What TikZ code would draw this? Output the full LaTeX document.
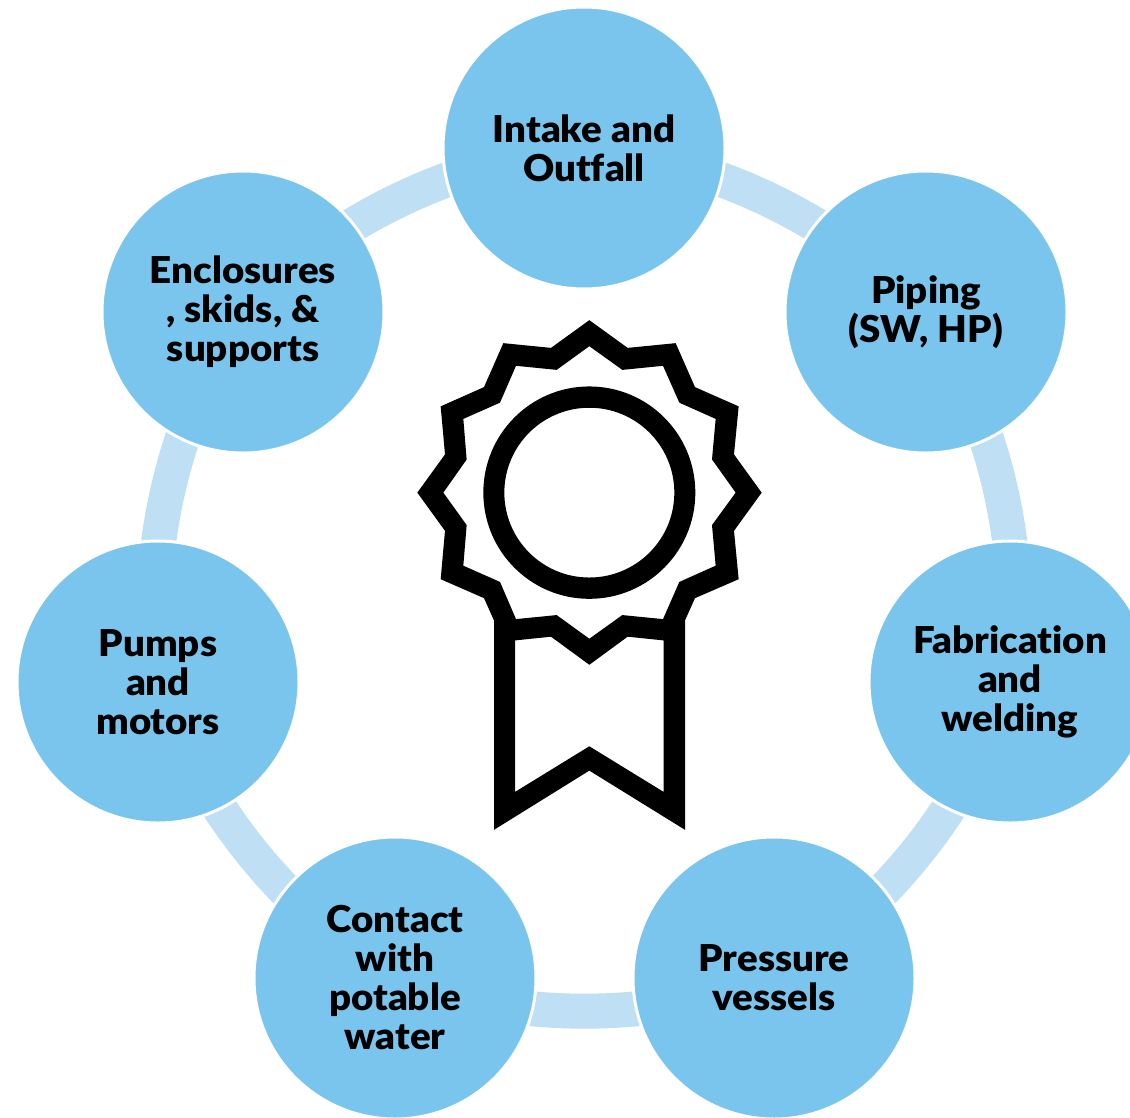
\documentclass[tikz,border=0pt]{standalone}
\usepackage{fontspec}
\setmainfont{Lato}[BoldFont={Lato Black},BoldFeatures={FakeStretch=1.04},Ligatures={NoCommon},Contextuals=NoAlternate]
\usetikzlibrary{backgrounds}
\definecolor{disc}{HTML}{7AC5EE}
\definecolor{ringc}{HTML}{BFDFF5}
\tikzset{
  discnode/.style={circle,fill=disc,draw=white,line width=3pt,minimum size=282pt,inner sep=0pt,align=center,
    font=\fontsize{37}{39}\selectfont\bfseries,text=black},
  ringseg/.style={draw=ringc,line width=35pt,bend left=20,looseness=0.875},
}
\begin{document}
\begin{tikzpicture}[x=1pt,y=-1pt]
\clip (0,0) rectangle (1130,1117);
\node[discnode] (a) at (584,148) {Intake and\\Outfall};
\node[discnode] (b) at (926,312) {Piping\\(SW, HP)};
\node[discnode] (c) at (1010,682) {Fabrication\\and\\welding};
\node[discnode] (d) at (774,978) {Pressure\\vessels};
\node[discnode] (e) at (395,978) {Contact\\with\\potable\\water};
\node[discnode] (f) at (158,682) {Pumps\\and\\motors};
\node[discnode] (g) at (243,312) {Enclosures\\, skids, \&\\supports};
\begin{scope}[on background layer]
\draw[ringseg] (a.center) to (b.center);
\draw[ringseg] (b.center) to (c.center);
\draw[ringseg] (c.center) to (d.center);
\draw[ringseg] (d.center) to (e.center);
\draw[ringseg] (e.center) to (f.center);
\draw[ringseg] (f.center) to (g.center);
\draw[ringseg] (g.center) to (a.center);
\end{scope}
\begin{scope}[shift={(400,310)},x=0.33333pt,y=-0.3382pt]
\fill[black,even odd rule]
 (568,30)--(683,112)--(827,98)--(885,228)--(1016,285)--(1002,427)--(1085,540)--(1002,653)--(1016,796)--(885,852)--(855,918)--(855,1537)--(568,1362)--(282,1537)--(282,918)--(252,852)--(122,796)--(135,653)--(52,540)--(135,427)--(122,285)--(252,228)--(310,98)--(453,112)--cycle
 (568,107)--(667,177)--(789,165)--(838,274)--(947,322)--(936,442)--(1007,540)--(936,636)--(947,756)--(838,804)--(789,914)--(667,902)--(568,972)--(470,902)--(348,914)--(300,804)--(190,756)--(200,636)--(130,540)--(200,442)--(190,322)--(300,274)--(348,165)--(470,177)--cycle
 (345,977)--(453,966)--(568,1049)--(683,966)--(791,977)--(791,1425)--(568,1290)--(345,1425)--cycle
 (568,540) ellipse [x radius=318,y radius=314]
 (568,540) ellipse [x radius=255,y radius=251];
\end{scope}
\end{tikzpicture}
\end{document}
